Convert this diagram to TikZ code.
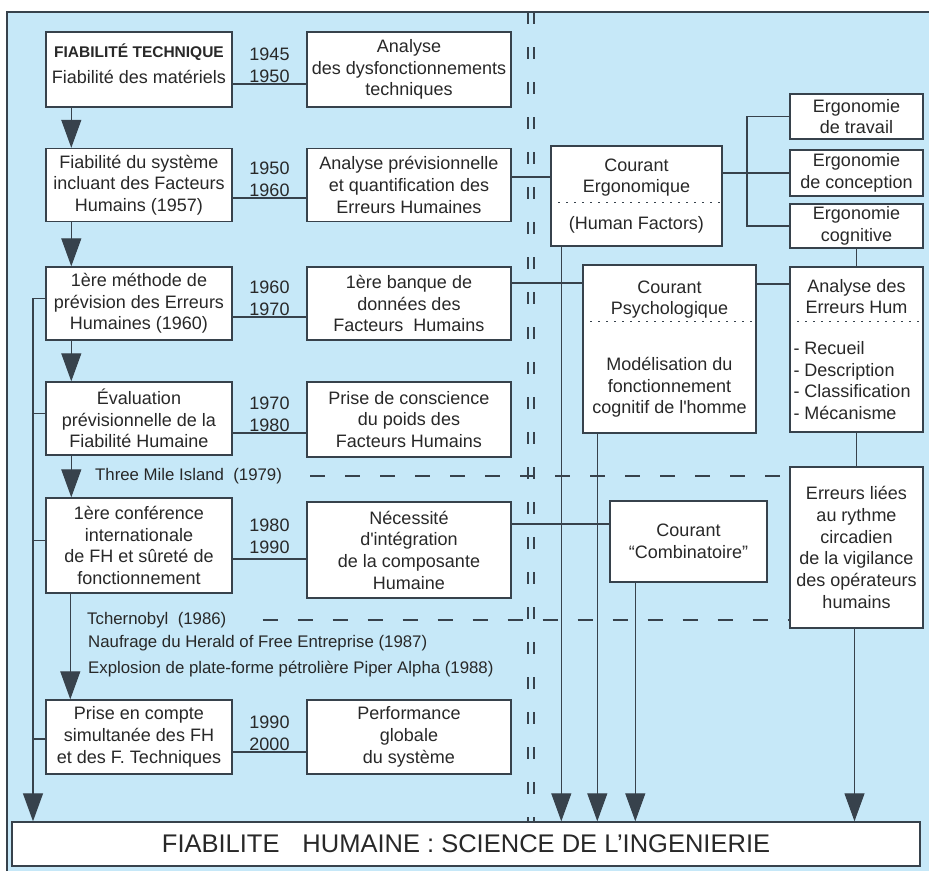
\documentclass[tikz,border=0pt]{standalone}
\usepackage{fontspec}
\setmainfont{Liberation Sans}
\usetikzlibrary{arrows.meta}

\definecolor{panel}{RGB}{198,232,248}
\definecolor{edge}{RGB}{55,66,76}
\definecolor{ink}{RGB}{40,40,40}

\newcommand{\eritem}[1]{\makebox[126pt][l]{#1}}

\tikzset{
  box/.style={draw=edge, line width=1.4pt, fill=white, align=center, inner sep=1pt, text=ink, font=\fontsize{18}{21.7}\selectfont},
  lbox/.style={box, minimum width=186},
  mbox/.style={box, minimum width=204},
  rbox/.style={box, minimum width=133},
  conn/.style={draw=edge, line width=1.2pt},
  flow/.style={conn, -{Triangle[length=28pt,width=20pt]}},
  yrs/.style={align=center, inner sep=1pt, text=ink, font=\fontsize{18}{21.7}\selectfont},
  evt/.style={anchor=west, inner sep=0pt, text=ink, font=\fontsize{16.8}{20}\selectfont},
  sepline/.style={draw=edge, line width=1pt, dash pattern=on 2pt off 6pt},
  evline/.style={draw=edge, line width=1.2pt, dash pattern=on 15pt off 20pt},
  divider/.style={draw=edge, line width=1.5pt, dash pattern=on 12pt off 23pt}
}

\begin{document}
\begin{tikzpicture}[x=1pt,y=1pt,yscale=-1,xscale=1]
\useasboundingbox (0,0) rectangle (929,871);

%Shape: Rectangle
\fill[panel] (7,12) rectangle (929,871);
\draw[edge, line width=1.2pt] (7,871) -- (7,12) -- (929,12);

%Straight Lines
\draw[divider] (528,12) -- (528,822);
\draw[divider] (534,12) -- (534,822);

% Text Node
\node[lbox, minimum height=75] (b1) at (139,69.5) {{\bfseries\fontsize{15.5}{18}\selectfont FIABILITÉ TECHNIQUE}\\[4pt]Fiabilité des matériels\\[-10pt]\mbox{}};
% Text Node
\node[lbox, minimum height=73] (b2) at (139,185) {Fiabilité du système\\incluant des Facteurs\\Humains (1957)};
% Text Node
\node[lbox, minimum height=73] (b3) at (139,303.5) {1ère méthode de\\prévision des Erreurs\\Humaines (1960)};
% Text Node
\node[lbox, minimum height=73] (b4) at (139,418.5) {Évaluation\\prévisionnelle de la\\Fiabilité Humaine};
% Text Node
\node[lbox, minimum height=95] (b5) at (139,545.5) {1ère conférence\\internationale\\de FH et sûreté de\\fonctionnement};
% Text Node
\node[lbox, minimum height=74] (b6) at (139,737) {Prise en compte\\simultanée des FH\\et des F. Techniques};

% Text Node
\node[mbox, minimum height=75] (m1) at (409,69.5) {Analyse\\des dysfonctionnements\\techniques};
% Text Node
\node[mbox, minimum height=73] (m2) at (409,185) {Analyse prévisionnelle\\et quantification des\\Erreurs Humaines};
% Text Node
\node[mbox, minimum height=73] (m3) at (409,303.5) {1ère banque de\\données des\\Facteurs\ \ Humains};
% Text Node
\node[mbox, minimum height=75] (m4) at (409,419.5) {Prise de conscience\\du poids des\\Facteurs Humains};
% Text Node
\node[mbox, minimum height=96] (m5) at (409,550) {Nécessité\\d\textquotesingle intégration\\de la composante\\Humaine};
% Text Node
\node[mbox, minimum height=74] (m6) at (409,737) {Performance\\globale\\du système};

% Text Node
\node[box, minimum width=171, minimum height=100] (ergo) at (636.5,196) {Courant\\Ergonomique\\[15pt](Human Factors)};
% Text Node
\node[box, minimum width=173, minimum height=168] (psy) at (669.5,349) {Courant\\Psychologique\\[34pt]Modélisation du\\fonctionnement\\cognitif de l\textquotesingle homme};
% Text Node
\node[box, minimum width=157, minimum height=81] (comb) at (688.5,541.5) {Courant\\“Combinatoire”};

% Text Node
\node[rbox, minimum height=45] (et) at (856.5,116.5) {Ergonomie\\de travail};
% Text Node
\node[rbox, minimum height=46] (ec) at (856.5,173) {Ergonomie\\de conception};
% Text Node
\node[rbox, minimum height=44] (eg) at (856.5,226) {Ergonomie\\cognitive};
% Text Node
\node[rbox, minimum height=165] (aeh) at (856.5,349.5) {Analyse des\\Erreurs Hum\\[19pt]\eritem{- Recueil}\\\eritem{- Description}\\\eritem{- Classification}\\\eritem{- Mécanisme}};
% Text Node
\node[rbox, minimum height=161] (erl) at (856.5,547.5) {Erreurs liées\\au rythme\\circadien\\de la vigilance\\des opérateurs\\humains};

% Text Node
\node[box, minimum width=908, minimum height=44, font=\fontsize{25.5}{28}\selectfont] (fh) at (466,844) {FIABILITE\hspace{0.9em}HUMAINE : SCIENCE DE L’INGENIERIE};

% Text Node
\node[evt] (tmi) at (95,476) {Three Mile Island\ \ (1979)};
% Text Node
\node[evt] (tch) at (87,620) {Tchernobyl\ \ (1986)};
% Text Node
\node[evt] (hof) at (88,643) {Naufrage du Herald of Free Entreprise (1987)};
% Text Node
\node[evt] (pip) at (88,669) {Explosion de plate-forme pétrolière Piper Alpha (1988)};

%Straight Lines
\draw[conn] ([yshift=14.5]b1.east) -- node[yrs, above] (y1) {1945\\1950} ([yshift=14.5]b1.east -| m1.west);
\draw[conn] ([yshift=13]b2.east) -- node[yrs, above] (y2) {1950\\1960} ([yshift=13]b2.east -| m2.west);
\draw[conn] ([yshift=13.5]b3.east) -- node[yrs, above] (y3) {1960\\1970} ([yshift=13.5]b3.east -| m3.west);
\draw[conn] ([yshift=14.5]b4.east) -- node[yrs, above] (y4) {1970\\1980} ([yshift=14.5]b4.east -| m4.west);
\draw[conn] ([yshift=13.5]b5.east) -- node[yrs, above=4pt] (y5) {1980\\1990} ([yshift=13.5]b5.east -| m5.west);
\draw[conn] ([yshift=15]b6.east) -- node[yrs, above] (y6) {1990\\2000} ([yshift=15]b6.east -| m6.west);

%Straight Lines
\draw[flow] ([xshift=26]b1.south west) -- ([xshift=26]b2.north west);
\draw[flow] ([xshift=26]b2.south west) -- ([xshift=26]b3.north west);
\draw[flow] ([xshift=26]b3.south west) -- ([xshift=26]b4.north west);
\draw[flow] ([xshift=26]b4.south west) -- ([xshift=26]b5.north west);
\draw[flow] ([xshift=25]b5.south west) -- ([xshift=25]b6.north west);

%Straight Lines
\coordinate (rail) at (33,0);
\draw[flow] ([yshift=-5]b3.west) -| (fh.north -| rail);
\draw[conn] ([yshift=-5]b4.west) -- ([yshift=-5]b4.west -| rail);
\draw[conn] ([yshift=-5]b5.west) -- ([yshift=-5]b5.west -| rail);
\draw[conn] ([yshift=2]b6.west) -- ([yshift=2]b6.west -| rail);

%Straight Lines
\draw[conn] ([yshift=-8]m2.east) -- ([yshift=-8]m2.east -| ergo.west);
\draw[conn] (ec.west -| ergo.east) -- (ec.west);
\coordinate (fork) at (747,0);
\draw[conn] (et.west) -- (et.west -| fork) -- (eg.west -| fork) -- (eg.west);
\draw[conn] (eg.south) -- (aeh.north);
\draw[conn] ([yshift=-20.5]m3.east) -- ([yshift=-20.5]m3.east -| psy.west);
\draw[conn] ([yshift=-65]psy.east) -- ([yshift=-65]psy.east -| aeh.west);
\draw[conn] (aeh.south) -- (erl.north);
\draw[conn] ([yshift=-26]m5.east) -- ([yshift=-26]m5.east -| comb.west);

%Straight Lines
\draw[flow] ([xshift=11]ergo.south west) -- ([xshift=11]ergo.south west |- fh.north);
\draw[flow] ([xshift=15]psy.south west) -- ([xshift=15]psy.south west |- fh.north);
\draw[flow] ([xshift=26]comb.south west) -- ([xshift=26]comb.south west |- fh.north);
\draw[flow] ([xshift=-2]erl.south) -- ([xshift=-2]erl.south |- fh.north);

%Straight Lines
\draw[sepline] ([yshift=6]ergo.west) -- ([yshift=6]ergo.east);
\draw[sepline] ([yshift=-28]psy.west) -- ([yshift=-28]psy.east);
\draw[sepline] ([yshift=-28.5]aeh.west) -- ([yshift=-28.5]aeh.east);

%Straight Lines
\draw[evline] ([xshift=28]tmi.east) -- (tmi.east -| erl.west);
\draw[evline] ([xshift=36]tch.east) -- (tch.east -| erl.west);

\end{tikzpicture}
\end{document}
